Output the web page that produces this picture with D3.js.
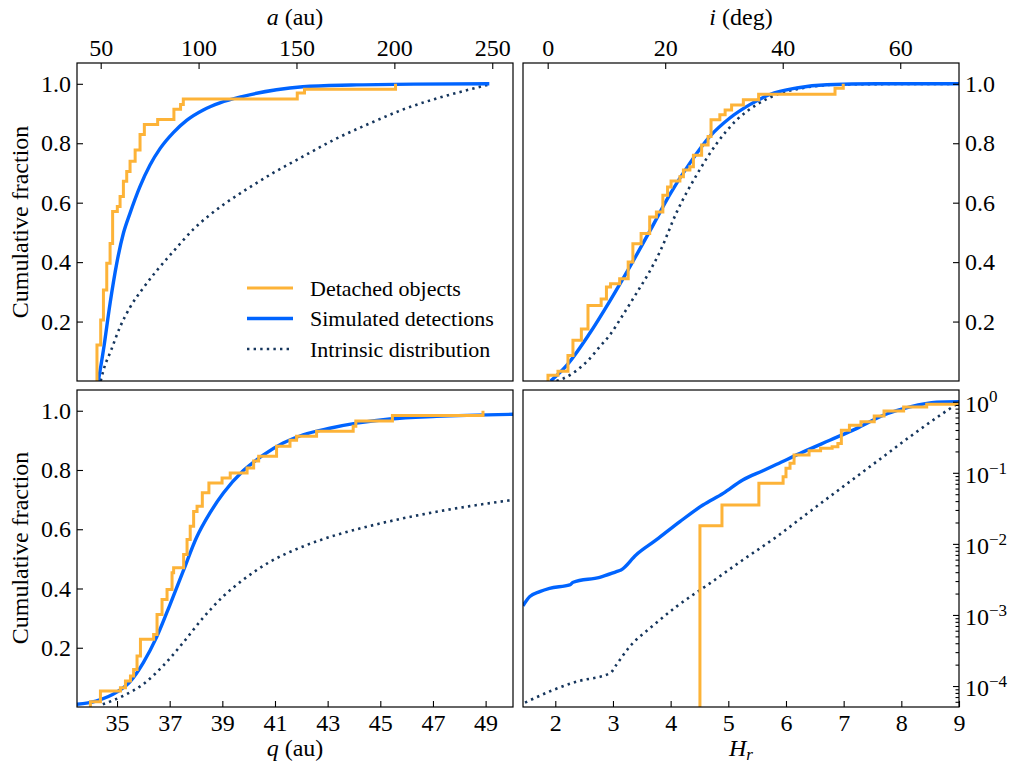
<!DOCTYPE html>
<html>
<head>
<meta charset="utf-8">
<script src="https://cdn.jsdelivr.net/npm/d3@7"></script>
<style>
  body { margin: 0; background: #fff; }
  svg { font-family: "Liberation Serif", "DejaVu Serif", serif; }
  .domain { display: none; }
  .tick line { stroke: #000; stroke-width: 1.1; }
  .label { font-size: 24px; }
  .legend { font-size: 22px; }
</style>
</head>
<body>
<svg width="1017" height="766"></svg>
<script>
// semi-major axis a (au)
const aDetached = [[48.1, 0], [48.1, 0.121], [50.0, 0.205], [51.4, 0.306], [53.1, 0.396], [54.8, 0.463],
    [56.1, 0.57], [58.5, 0.587], [59.9, 0.621], [61.6, 0.672], [63.3, 0.705], [65.0, 0.739],
    [67.6, 0.777], [70.1, 0.829], [72.3, 0.863], [79.1, 0.88], [87.4, 0.914], [90.8, 0.93],
    [92.2, 0.949], [150.4, 0.969], [154.1, 0.982], [200.6, 1.0]];
const aSimulated = [[48.8, 0], [51.4, 0.104], [54.8, 0.262], [58.2, 0.396], [61.6, 0.497], [65.0, 0.565],
    [70.1, 0.655], [75.2, 0.727], [80.3, 0.782], [87.1, 0.836], [93.9, 0.877], [102.4, 0.912],
    [110.9, 0.936], [122.8, 0.958], [139.8, 0.98], [153.2, 0.99], [178, 0.996], [210, 0.999],
    [248.5, 1.0]];
const aIntrinsic = [[50.0, 0], [51.4, 0.036], [55.3, 0.103], [59.9, 0.182], [65.0, 0.248], [71.4, 0.31],
    [78.2, 0.368], [86.7, 0.433], [97.3, 0.51], [112.6, 0.593], [122.8, 0.638], [138.1, 0.70],
    [153.2, 0.755], [170.2, 0.815], [187.2, 0.866], [204.2, 0.913], [221.2, 0.95], [235, 0.975],
    [248.5, 0.998]];

// inclination i (deg)
const iDetached = [[0.05, 0], [0.05, 0.019], [1.75, 0.033], [3.45, 0.086], [4.3, 0.137], [5.73, 0.175],
    [6.86, 0.254], [9.1, 0.276], [10.0, 0.316], [10.7, 0.327], [12.25, 0.344], [13.7, 0.40],
    [14.5, 0.462], [15.9, 0.496], [17.36, 0.552], [18.5, 0.569], [19.6, 0.625], [20.4, 0.653],
    [21.0, 0.673], [22.5, 0.687], [23.1, 0.71], [24.2, 0.721], [24.8, 0.76], [26.2, 0.794],
    [27.3, 0.823], [27.8, 0.879], [29.3, 0.896], [30.2, 0.912], [31.3, 0.929], [33.3, 0.946],
    [35.9, 0.965], [48.9, 0.985], [50.3, 1.0]];
const iSimulated = [[0.5, 0], [3.2, 0.052], [7.1, 0.159], [10.6, 0.27], [14.0, 0.385], [17.4, 0.505],
    [20.8, 0.628], [24.2, 0.733], [27.6, 0.823], [31.0, 0.885], [34.4, 0.93], [37.8, 0.964],
    [42.4, 0.986], [47.5, 0.997], [56, 1.0], [70, 1.0]];
const iIntrinsic = [[1.5, 0], [2.6, 0.008], [4.9, 0.035], [6.9, 0.07], [8.85, 0.115], [10.55, 0.154],
    [12.8, 0.222], [15.1, 0.295], [17.1, 0.36], [19.1, 0.435], [22.0, 0.57], [25.4, 0.695],
    [28.8, 0.80], [32.2, 0.879], [35.6, 0.93], [39.0, 0.964], [43.5, 0.986], [50, 0.998], [70, 1.0]];

// perihelion q (au)
const qDetached = [[33.99, 0], [33.99, 0.018], [34.37, 0.054], [35.13, 0.065], [35.32, 0.088],
    [35.51, 0.105], [35.63, 0.127], [35.76, 0.172], [35.89, 0.229], [36.39, 0.245], [36.52, 0.312],
    [36.71, 0.363], [36.9, 0.397], [37.09, 0.453], [37.15, 0.47], [37.53, 0.515], [37.66, 0.565],
    [37.78, 0.61], [37.91, 0.66], [38.04, 0.678], [38.24, 0.723], [38.49, 0.756], [38.99, 0.773],
    [39.3, 0.79], [39.94, 0.807], [40.19, 0.83], [40.38, 0.846], [41.06, 0.88], [41.57, 0.9],
    [41.82, 0.914], [42.58, 0.931], [43.97, 0.948], [44.07, 0.965], [45.46, 0.984], [48.9, 1.0]];
const qSimulated = [[33.46, 0.009], [34.2, 0.02], [34.99, 0.05], [35.49, 0.085], [36.0, 0.15],
    [36.5, 0.235], [37.01, 0.345], [37.52, 0.46], [38.02, 0.572], [38.53, 0.655], [39.04, 0.722],
    [39.8, 0.798], [40.55, 0.85], [41.31, 0.891], [42.07, 0.919], [43.08, 0.941], [44.1, 0.958],
    [45.36, 0.972], [47.13, 0.981], [50.04, 0.988]];
const qIntrinsic = [[34.46, 0.009], [35.22, 0.037], [35.98, 0.076], [36.74, 0.138], [37.5, 0.216],
    [38.27, 0.301], [39.04, 0.374], [39.8, 0.43], [40.81, 0.49], [42.07, 0.542], [43.34, 0.581],
    [44.6, 0.611], [45.87, 0.637], [47.13, 0.659], [48.4, 0.678], [50.04, 0.699]];

// absolute magnitude H_r (log10 of cumulative fraction)
const hDetached = [[4.508, -6], [4.508, -1.744], [4.89, -1.453], [5.53, -1.148], [5.95, -1.054],
    [6.0, -0.937], [6.07, -0.866], [6.14, -0.75], [6.4, -0.689], [6.6, -0.656], [6.8, -0.635],
    [6.9, -0.588], [6.96, -0.4], [7.1, -0.33], [7.3, -0.28], [7.53, -0.2], [7.7, -0.13],
    [8.04, -0.073], [8.44, -0.036], [9.0, 0]];
const hSimulated = [[1.44, -2.87], [1.556, -2.742], [1.73, -2.672], [1.9, -2.625], [2.25, -2.578],
    [2.31, -2.54], [2.77, -2.47], [3.06, -2.39], [3.14, -2.367], [3.4, -2.156], [3.75, -1.945],
    [4.16, -1.687], [4.56, -1.453], [4.91, -1.289], [5.25, -1.101], [5.6, -0.97], [5.84, -0.88],
    [6.3, -0.706], [6.76, -0.542], [7.22, -0.378], [7.69, -0.19], [8.15, -0.073], [8.61, -0.007],
    [9.0, 0]];
const hIntrinsic = [[1.475, -4.233], [1.966, -4.055], [2.37, -3.938], [2.95, -3.82], [3.06, -3.70],
    [3.29, -3.445], [3.64, -3.187], [4.1, -2.883], [4.68, -2.555], [5.25, -2.227], [5.84, -1.898],
    [6.41, -1.547], [6.99, -1.195], [7.57, -0.844], [8.15, -0.492], [8.72, -0.164], [8.98, -0.023]];

const aTicks = [50, 100, 150, 200, 250];
const iTicks = [0, 20, 40, 60];
const qTicks = [35, 37, 39, 41, 43, 45, 47, 49];
const hTicks = [2, 3, 4, 5, 6, 7, 8, 9];
const fracTicks = [0.2, 0.4, 0.6, 0.8, 1.0];
const logTicks = [0, -1, -2, -3, -4];

const orange = '#fdb338';
const blue = '#0064ff';
const navy = '#15355c';
const serif = '"Liberation Serif", "DejaVu Serif", serif';

const svg = d3.select('svg');

// d3 axes put font-family="sans-serif" on their group, so set it back here
const styleAxis = sel => sel.attr('font-family', serif).attr('font-size', 24)
    .selectAll('.tick text').attr('fill', '#000');

const panels = [
    { id: 'tl', x0: 77, x1: 513, y0: 63, y1: 381, xd: [37.9, 260.6], xt: aTicks, xpos: 'top', ypos: 'left',
      data: [aIntrinsic, aSimulated, aDetached], xlabel: ['a', ' (au)'] },
    { id: 'tr', x0: 523, x1: 959, y0: 63, y1: 381, xd: [-4.2, 70], xt: iTicks, xpos: 'top', ypos: 'right',
      data: [iIntrinsic, iSimulated, iDetached], xlabel: ['i', ' (deg)'] },
    { id: 'bl', x0: 77, x1: 513, y0: 390, y1: 707, xd: [33.48, 50.04], xt: qTicks, xpos: 'bottom', ypos: 'left',
      data: [qIntrinsic, qSimulated, qDetached], xlabel: ['q', ' (au)'] },
    { id: 'br', x0: 523, x1: 959, y0: 390, y1: 707, xd: [1.44, 9], xt: hTicks, xpos: 'bottom', ypos: 'right',
      data: [hIntrinsic, hSimulated, hDetached], log: true }
];

const styles = [
    { color: navy, width: 2.6, dash: '2.4,4.2' },
    { color: blue, width: 3.4, dash: null },
    { color: orange, width: 3, dash: null }
];

panels.forEach(p => {
    const x = d3.scaleLinear().domain(p.xd).range([p.x0, p.x1]);
    const y = p.log
        ? d3.scaleLinear().domain([-4.295, 0.165]).range([p.y1, p.y0])
        : d3.scaleLinear().domain([0, 1.07]).range([p.y1, p.y0]);

    svg.append('clipPath').attr('id', 'clip-' + p.id)
        .append('rect')
        .attr('x', p.x0).attr('y', p.y0)
        .attr('width', p.x1 - p.x0).attr('height', p.y1 - p.y0);

    const g = svg.append('g').attr('clip-path', `url(#clip-${p.id})`);

    p.data.forEach((series, k) => {
        const st = styles[k];
        const line = d3.line()
            .x(d => x(d[0]))
            .y(d => y(d[1]))
            .curve(k === 2 ? d3.curveStepAfter : d3.curveMonotoneX);
        g.append('path')
            .datum(series)
            .attr('d', line)
            .attr('fill', 'none')
            .attr('stroke', st.color)
            .attr('stroke-width', st.width)
            .attr('stroke-dasharray', st.dash);
    });

    // x axis
    if (p.xpos === 'top') {
        svg.append('g')
            .attr('transform', `translate(0, ${p.y0})`)
            .call(d3.axisTop(x).tickValues(p.xt).tickSize(-6).tickPadding(7).tickFormat(d3.format('d')))
            .call(styleAxis);
    } else {
        svg.append('g')
            .attr('transform', `translate(0, ${p.y1})`)
            .call(d3.axisBottom(x).tickValues(p.xt).tickSize(-6).tickPadding(7).tickFormat(d3.format('d')))
            .call(styleAxis);
    }

    // y axis
    if (!p.log) {
        const ax = p.ypos === 'left'
            ? d3.axisLeft(y).tickSize(-6).tickPadding(6)
            : d3.axisRight(y).tickSize(-6).tickPadding(6);
        svg.append('g')
            .attr('transform', `translate(${p.ypos === 'left' ? p.x0 : p.x1}, 0)`)
            .call(ax.tickValues(fracTicks).tickFormat(d3.format('.1f')))
            .call(styleAxis);
    } else {
        const minor = [];
        [-5, -4, -3, -2, -1, 0].forEach(e => {
            for (let m = 2; m <= 9; m++) {
                const v = e + Math.log10(m);
                if (v > y.domain()[0] && v < y.domain()[1]) minor.push(v);
            }
        });
        svg.append('g')
            .attr('transform', `translate(${p.x1}, 0)`)
            .call(d3.axisRight(y).tickValues(minor).tickSize(-3.5).tickFormat(''));
        const ya = svg.append('g')
            .attr('transform', `translate(${p.x1}, 0)`)
            .call(d3.axisRight(y).tickValues(logTicks).tickSize(-6).tickPadding(6).tickFormat(''))
            .call(styleAxis);
        ya.selectAll('.tick text').each(function (d) {
            const t = d3.select(this).attr('dy', '0.4em');
            t.append('tspan').text('10');
            t.append('tspan').attr('dy', '-0.55em').attr('font-size', '17px')
                .text(d === 0 ? '0' : '\u2212' + Math.abs(d));
        });
    }

    // frame
    svg.append('rect')
        .attr('x', p.x0).attr('y', p.y0)
        .attr('width', p.x1 - p.x0).attr('height', p.y1 - p.y0)
        .attr('fill', 'none').attr('stroke', '#000').attr('stroke-width', 1.2);
});

// axis labels
const topLabel = (cx, parts) => {
    const t = svg.append('text').attr('class', 'label')
        .attr('x', cx).attr('y', 25).attr('text-anchor', 'middle');
    t.append('tspan').attr('font-style', 'italic').text(parts[0]);
    t.append('tspan').text(parts[1]);
};
topLabel(295, panels[0].xlabel);
topLabel(741, panels[1].xlabel);

const qLab = svg.append('text').attr('class', 'label')
    .attr('x', 295).attr('y', 756).attr('text-anchor', 'middle');
qLab.append('tspan').attr('font-style', 'italic').text('q');
qLab.append('tspan').text(' (au)');

const hLab = svg.append('text').attr('class', 'label')
    .attr('x', 741).attr('y', 756).attr('text-anchor', 'middle');
hLab.append('tspan').attr('font-style', 'italic').text('H');
hLab.append('tspan').attr('font-style', 'italic').attr('font-size', '17px').attr('dy', '0.25em').text('r');

[222, 548].forEach(cy => {
    svg.append('text').attr('class', 'label')
        .attr('transform', `translate(28, ${cy}) rotate(-90)`)
        .attr('text-anchor', 'middle')
        .text('Cumulative fraction');
});

// legend
const legendItems = ['Detached objects', 'Simulated detections', 'Intrinsic distribution'];
const legendStyles = [styles[2], styles[1], styles[0]];
legendItems.forEach((name, k) => {
    const ly = 288 + k * 30.5;
    const st = legendStyles[k];
    svg.append('line')
        .attr('x1', 247).attr('x2', 293).attr('y1', ly).attr('y2', ly)
        .attr('stroke', st.color).attr('stroke-width', st.width)
        .attr('stroke-dasharray', st.dash);
    svg.append('text').attr('class', 'legend')
        .attr('x', 310).attr('y', ly).attr('dy', '0.35em')
        .text(name);
});
</script>
</body>
</html>
